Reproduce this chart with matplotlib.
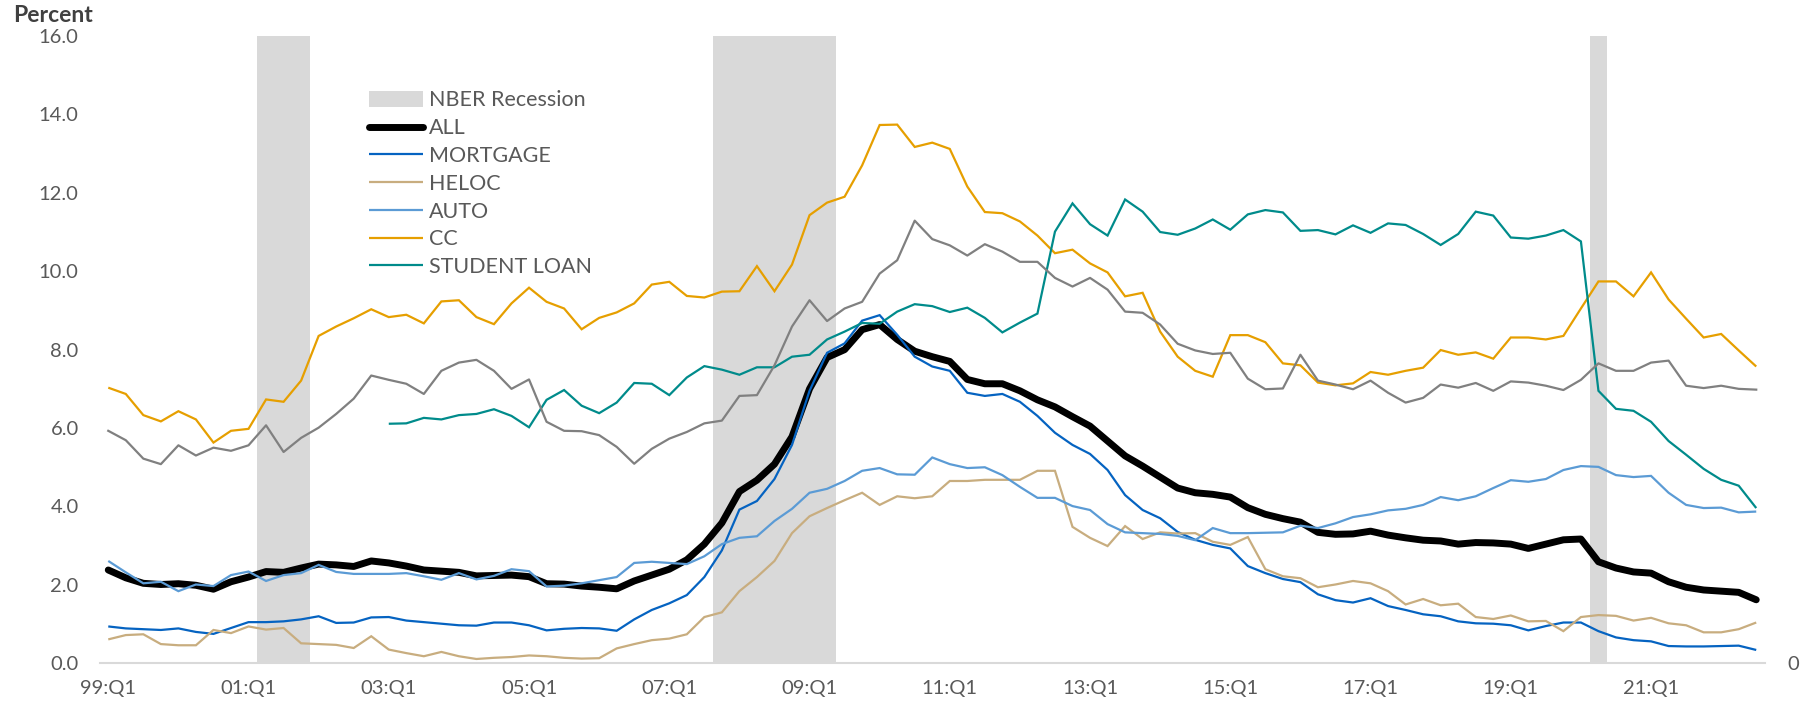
import numpy as np
import matplotlib
matplotlib.use("Agg")
import matplotlib.pyplot as plt
from matplotlib.patches import Patch
from matplotlib.lines import Line2D

plt.rcParams['font.family'] = ['Lato', 'DejaVu Sans']

# ---------------- data ----------------
n_quarters = 95  # 99:Q1 .. 22:Q3
quarters = [f"{(99 + q // 4) % 100:02d}:Q{q % 4 + 1}" for q in range(n_quarters)]
tick_labels = ["99:Q1", "01:Q1", "03:Q1", "05:Q1", "07:Q1", "09:Q1",
               "11:Q1", "13:Q1", "15:Q1", "17:Q1", "19:Q1", "21:Q1"]
recession_quarters = ["01:Q2", "01:Q3", "01:Q4",
                      "07:Q4", "08:Q1", "08:Q2", "08:Q3", "08:Q4", "09:Q1", "09:Q2",
                      "20:Q2"]

all_ = [2.38, 2.18, 2.04, 2.01, 2.03, 1.99, 1.89, 2.08, 2.20, 2.34, 2.32, 2.43, 2.53, 2.51, 2.47, 2.61,
        2.56, 2.48, 2.38, 2.35, 2.32, 2.23, 2.24, 2.25, 2.21, 2.03, 2.02, 1.97, 1.94, 1.90, 2.10, 2.25,
        2.40, 2.64, 3.04, 3.58, 4.38, 4.67, 5.08, 5.78, 7.00, 7.80, 8.00, 8.51, 8.64, 8.26, 7.96, 7.82,
        7.70, 7.24, 7.13, 7.13, 6.95, 6.72, 6.54, 6.29, 6.05, 5.67, 5.29, 5.03, 4.75, 4.47, 4.35, 4.31,
        4.24, 3.97, 3.80, 3.69, 3.60, 3.34, 3.29, 3.30, 3.37, 3.27, 3.20, 3.14, 3.12, 3.04, 3.08, 3.07,
        3.04, 2.93, 3.04, 3.15, 3.17, 2.59, 2.43, 2.33, 2.30, 2.08, 1.94, 1.87, 1.84, 1.81, 1.62]

mortgage = [0.94, 0.89, 0.87, 0.85, 0.89, 0.80, 0.75, 0.90, 1.05, 1.05, 1.07, 1.12, 1.20, 1.03, 1.04, 1.17,
            1.18, 1.09, 1.05, 1.01, 0.97, 0.96, 1.04, 1.04, 0.97, 0.84, 0.88, 0.90, 0.89, 0.83, 1.12, 1.36,
            1.53, 1.74, 2.20, 2.88, 3.92, 4.14, 4.70, 5.57, 6.95, 7.92, 8.16, 8.74, 8.88, 8.38, 7.82, 7.57,
            7.46, 6.90, 6.82, 6.87, 6.67, 6.31, 5.88, 5.57, 5.34, 4.93, 4.29, 3.91, 3.70, 3.35, 3.15, 3.02,
            2.93, 2.48, 2.30, 2.15, 2.07, 1.76, 1.61, 1.55, 1.66, 1.46, 1.36, 1.25, 1.20, 1.07, 1.02, 1.01,
            0.97, 0.84, 0.95, 1.04, 1.04, 0.82, 0.66, 0.59, 0.56, 0.44, 0.43, 0.43, 0.44, 0.45, 0.34]

heloc = [0.61, 0.72, 0.74, 0.49, 0.46, 0.46, 0.85, 0.77, 0.94, 0.86, 0.90, 0.51, 0.49, 0.47, 0.39, 0.69,
         0.35, 0.26, 0.18, 0.29, 0.18, 0.11, 0.14, 0.16, 0.20, 0.18, 0.14, 0.12, 0.13, 0.38, 0.49, 0.59,
         0.63, 0.74, 1.18, 1.30, 1.84, 2.20, 2.61, 3.32, 3.75, 3.96, 4.16, 4.35, 4.04, 4.26, 4.21, 4.26,
         4.65, 4.65, 4.68, 4.68, 4.68, 4.91, 4.91, 3.48, 3.20, 2.99, 3.50, 3.17, 3.34, 3.31, 3.32, 3.10,
         3.02, 3.22, 2.40, 2.22, 2.17, 1.94, 2.01, 2.10, 2.04, 1.84, 1.50, 1.64, 1.48, 1.52, 1.18, 1.13,
         1.22, 1.07, 1.08, 0.82, 1.18, 1.23, 1.21, 1.09, 1.16, 1.02, 0.97, 0.79, 0.79, 0.87, 1.04]

auto = [2.61, 2.32, 2.04, 2.08, 1.84, 2.01, 1.97, 2.25, 2.34, 2.10, 2.25, 2.30, 2.51, 2.33, 2.28, 2.28,
        2.28, 2.30, 2.22, 2.13, 2.30, 2.14, 2.23, 2.40, 2.35, 1.96, 1.98, 2.04, 2.12, 2.20, 2.56, 2.59,
        2.56, 2.53, 2.73, 3.04, 3.20, 3.24, 3.63, 3.94, 4.35, 4.45, 4.65, 4.91, 4.98, 4.82, 4.81, 5.25,
        5.08, 4.98, 5.00, 4.80, 4.50, 4.22, 4.22, 4.01, 3.91, 3.55, 3.34, 3.32, 3.30, 3.25, 3.14, 3.45,
        3.32, 3.32, 3.33, 3.34, 3.51, 3.45, 3.57, 3.73, 3.80, 3.90, 3.94, 4.04, 4.24, 4.16, 4.26, 4.47,
        4.67, 4.63, 4.70, 4.93, 5.03, 5.01, 4.80, 4.75, 4.78, 4.35, 4.04, 3.96, 3.97, 3.85, 3.87]

cc = [7.03, 6.87, 6.33, 6.17, 6.43, 6.22, 5.63, 5.93, 5.98, 6.73, 6.67, 7.21, 8.35, 8.59, 8.80, 9.03,
      8.83, 8.89, 8.67, 9.23, 9.26, 8.83, 8.65, 9.18, 9.58, 9.22, 9.05, 8.52, 8.81, 8.95, 9.18, 9.66,
      9.73, 9.37, 9.33, 9.48, 9.49, 10.13, 9.49, 10.17, 11.43, 11.75, 11.90, 12.70, 13.73, 13.74, 13.17, 13.28,
      13.12, 12.16, 11.51, 11.48, 11.27, 10.91, 10.46, 10.55, 10.20, 9.97, 9.36, 9.45, 8.46, 7.82, 7.46, 7.31,
      8.37, 8.37, 8.19, 7.65, 7.60, 7.16, 7.09, 7.14, 7.43, 7.36, 7.46, 7.54, 7.99, 7.87, 7.93, 7.77,
      8.31, 8.31, 8.26, 8.35, 9.05, 9.74, 9.74, 9.36, 9.97, 9.28, 8.79, 8.31, 8.40, 7.98, 7.57]

nan = float("nan")
student_loan = [nan] * 16 + [
    6.11, 6.12, 6.26, 6.22, 6.33, 6.36, 6.48, 6.31, 6.02, 6.72, 6.97, 6.57, 6.38, 6.65, 7.15, 7.13,
    6.84, 7.29, 7.58, 7.49, 7.36, 7.55, 7.55, 7.82, 7.87, 8.26, 8.46, 8.68, 8.66, 8.97, 9.16, 9.11,
    8.96, 9.07, 8.81, 8.44, 8.69, 8.92, 11.01, 11.73, 11.20, 10.91, 11.83, 11.52, 11.00, 10.93, 11.09, 11.32,
    11.06, 11.45, 11.56, 11.50, 11.03, 11.05, 10.94, 11.17, 10.98, 11.22, 11.18, 10.95, 10.67, 10.95, 11.52, 11.42,
    10.86, 10.83, 10.91, 11.05, 10.76, 6.95, 6.49, 6.44, 6.16, 5.67, 5.32, 4.96, 4.68, 4.53, 3.96]

other = [5.93, 5.69, 5.22, 5.08, 5.56, 5.30, 5.50, 5.42, 5.56, 6.07, 5.39, 5.75, 6.01, 6.36, 6.75, 7.34,
         7.23, 7.13, 6.87, 7.46, 7.67, 7.74, 7.46, 7.00, 7.24, 6.16, 5.93, 5.92, 5.82, 5.52, 5.09, 5.47,
         5.73, 5.90, 6.12, 6.19, 6.82, 6.84, 7.60, 8.59, 9.26, 8.73, 9.05, 9.22, 9.94, 10.28, 11.29, 10.82,
         10.66, 10.40, 10.69, 10.50, 10.24, 10.24, 9.83, 9.61, 9.83, 9.53, 8.97, 8.94, 8.64, 8.15, 7.98, 7.89,
         7.92, 7.26, 6.99, 7.01, 7.87, 7.21, 7.11, 6.99, 7.21, 6.90, 6.65, 6.77, 7.11, 7.03, 7.15, 6.95,
         7.19, 7.16, 7.08, 6.97, 7.23, 7.65, 7.46, 7.46, 7.67, 7.72, 7.08, 7.02, 7.08, 7.00, 6.98]

# ---------------- figure ----------------
W, H = 1804, 706
fig = plt.figure(figsize=(W / 100, H / 100), dpi=100)
ax = fig.add_axes([99.5 / W, 1 - 663.3 / H, (1765 - 99.5) / W, (663.3 - 36) / H])
axr = ax.twinx()

x = np.arange(n_quarters)
rec_x = [quarters.index(q) for q in recession_quarters]
rec_bars = axr.bar(rec_x, [1] * len(rec_x), width=1.0, color="#D9D9D9", linewidth=0)
axr.set_ylim(0, 1)
axr.set_yticks([0])
axr.set_yticklabels(["0"])

ax.set_zorder(axr.get_zorder() + 1)
ax.patch.set_visible(False)

series = [
    ("ALL", all_, "#000000", 5.0),
    ("MORTGAGE", mortgage, "#0563C1", 1.6),
    ("HELOC", heloc, "#C8AD7F", 1.6),
    ("AUTO", auto, "#5B9BD5", 1.6),
    ("CC", cc, "#E69F00", 1.6),
    ("STUDENT LOAN", student_loan, "#008B8B", 1.6),
]
handles = [Patch(facecolor="#D9D9D9", edgecolor="none")]
labels = ["NBER Recession"]
for name, vals, col, lw in series:
    ln, = ax.plot(x, vals, color=col, lw=lw, solid_capstyle="round" if name == "ALL" else "butt",
                  solid_joinstyle="miter" if name != "ALL" else "round")
    handles.append(ln)
    labels.append(name)
ax.plot(x, other, color="#808080", lw=1.6)

ax.set_xlim(-0.5, n_quarters - 0.5)
ax.set_ylim(0, 16)
ax.set_yticks(np.arange(0, 17, 2))
ax.set_yticklabels([f"{v:.1f}" for v in np.arange(0, 17, 2)])
ax.set_xticks([quarters.index(t) for t in tick_labels])
ax.set_xticklabels(tick_labels)

for s in ["top", "left", "right"]:
    ax.spines[s].set_visible(False)
    axr.spines[s].set_visible(False)
axr.spines["bottom"].set_visible(False)
ax.spines["bottom"].set_color("#D9D9D9")
ax.spines["bottom"].set_linewidth(1.5)

ax.tick_params(axis="y", length=0, pad=15, labelsize=14.5, labelcolor="#595959")
ax.tick_params(axis="x", length=0, pad=12, labelsize=14.5, labelcolor="#595959")
axr.tick_params(axis="y", length=0, pad=16, labelsize=14.5, labelcolor="#595959")

fig.text(13 / W, 1 - 16 / H, "Percent", fontsize=16.5, fontweight="bold", color="#404040",
         ha="left", va="center")

fig.legend(handles, labels, loc="upper left", bbox_to_anchor=(369 / W, 1 - 90.5 / H),
           frameon=False, fontsize=15.5, handlelength=2.5, handletextpad=0.3,
           labelspacing=0.36, borderpad=0, borderaxespad=0, labelcolor="#595959")

fig.savefig("out.png", dpi=100)
